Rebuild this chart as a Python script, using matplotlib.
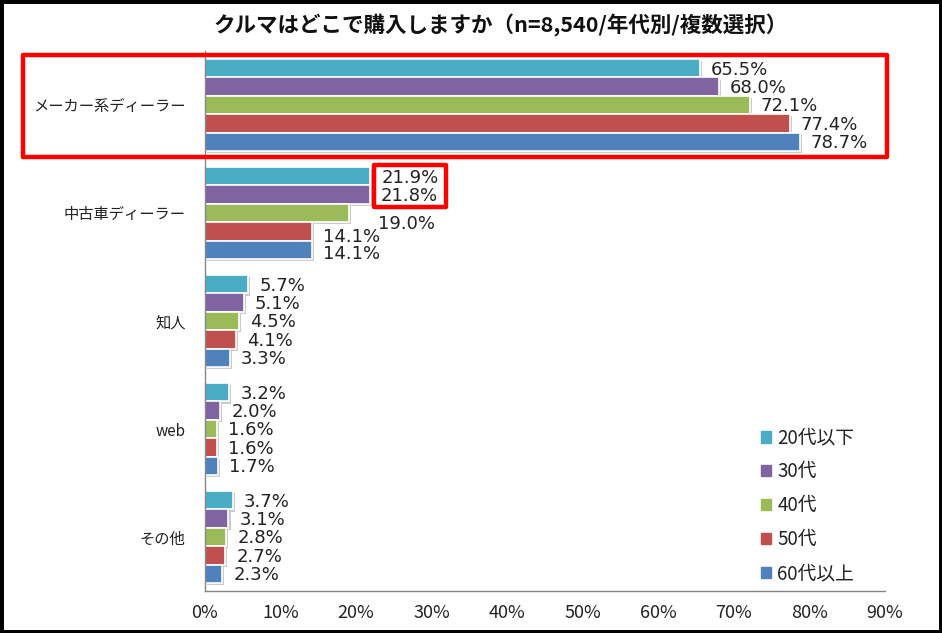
"""Where do people buy cars, by age group (horizontal grouped bars)."""

import matplotlib
matplotlib.use("Agg")
import matplotlib.pyplot as plt
import matplotlib.patheffects as pe
from matplotlib.patches import Rectangle
import numpy as np

plt.rcParams["font.family"] = ["Noto Sans CJK JP", "DejaVu Sans"]

title = "クルマはどこで購入しますか（n=8,540/年代別/複数選択）"
categories = ["メーカー系ディーラー", "中古車ディーラー", "知人", "web", "その他"]
series_names = ["20代以下", "30代", "40代", "50代", "60代以上"]
age_20s_under = [65.5, 21.9, 5.7, 3.2, 3.7]
age_30s = [68.0, 21.8, 5.1, 2.0, 3.1]
age_40s = [72.1, 19.0, 4.5, 1.6, 2.8]
age_50s = [77.4, 14.1, 4.1, 1.6, 2.7]
age_60s_over = [78.7, 14.1, 3.3, 1.7, 2.3]
x_ticks = [0, 10, 20, 30, 40, 50, 60, 70, 80, 90]

series_values = [age_20s_under, age_30s, age_40s, age_50s, age_60s_over]
colors = ["#4BACC6", "#8064A2", "#9BBB59", "#C0504D", "#4F81BD"]

# Excel moved a few crowded labels (offset in points: dx, dy)
label_nudge = {(1, 2): (21, -8), (1, 3): (8, -4), (1, 4): (8, -3)}

W, H = 942, 633
fig = plt.figure(figsize=(W / 100, H / 100), dpi=100)
ax = fig.add_axes([205 / W, (H - 591) / H, 680 / W, 540 / H])

step = 0.17
y_base = np.arange(len(categories))
shadow = [pe.SimplePatchShadow(offset=(1.5, -1.5), shadow_rgbFace="#999999", alpha=0.5),
          pe.Normal()]

for j, (name, vals, col) in enumerate(zip(series_names, series_values, colors)):
    ypos = y_base + (j - 2) * step
    bars = ax.barh(ypos, vals, height=step, color=col, edgecolor="white",
                   linewidth=1.2, label=name)
    for b in bars:
        b.set_path_effects(shadow)
    for i, (yy, v) in enumerate(zip(ypos, vals)):
        dx, dy = label_nudge.get((i, j), (8, -1))
        ax.annotate(f"{v:.1f}%", (v, yy), xytext=(dx, dy), textcoords="offset points",
                    va="center", ha="left", fontsize=13, family="DejaVu Sans",
                    color="#222222")

ax.set_xlim(0, 90)
ax.set_ylim(len(categories) - 0.5, -0.5)
ax.set_xticks(x_ticks)
ax.set_xticklabels([f"{t}%" for t in x_ticks], fontsize=13, color="#222222")
ax.set_yticks(y_base)
ax.set_yticklabels(categories, fontsize=11, color="#222222")
ax.tick_params(axis="both", length=0)
ax.tick_params(axis="x", pad=9)
ax.tick_params(axis="y", pad=14)
for side in ["top", "right"]:
    ax.spines[side].set_visible(False)
for side in ["left", "bottom"]:
    ax.spines[side].set_color("#868686")
    ax.spines[side].set_linewidth(1.0)

fig.text(501 / W, 1 - 25 / H, title, ha="center", va="center",
         fontsize=15.5, fontweight="bold", color="#111111")

leg = fig.legend([Rectangle((0, 0), 1, 1, color=c) for c in colors], series_names,
                 loc="upper left", bbox_to_anchor=(753 / W, 1 - 420 / H),
                 frameon=False, fontsize=13.5, handlelength=0.55, handleheight=0.55,
                 handletextpad=0.35, labelspacing=0.69, borderaxespad=0)
for t in leg.get_texts():
    t.set_color("#222222")


def red_box(x0, y0, x1, y1):
    """Red highlight frame given in figure pixels."""
    fig.patches.append(Rectangle((x0 / W, 1 - y1 / H), (x1 - x0) / W, (y1 - y0) / H,
                                 transform=fig.transFigure, fill=False,
                                 edgecolor="#FF0000", linewidth=3.2,
                                 joinstyle="round", zorder=10))


red_box(23, 55, 887, 157)
red_box(374, 165, 446, 207)

# outer black frame
fig.patches.append(Rectangle((0, 0), 1, 1, transform=fig.transFigure, fill=False,
                             edgecolor="black", linewidth=5, zorder=11))

fig.savefig("out.png", dpi=100)
